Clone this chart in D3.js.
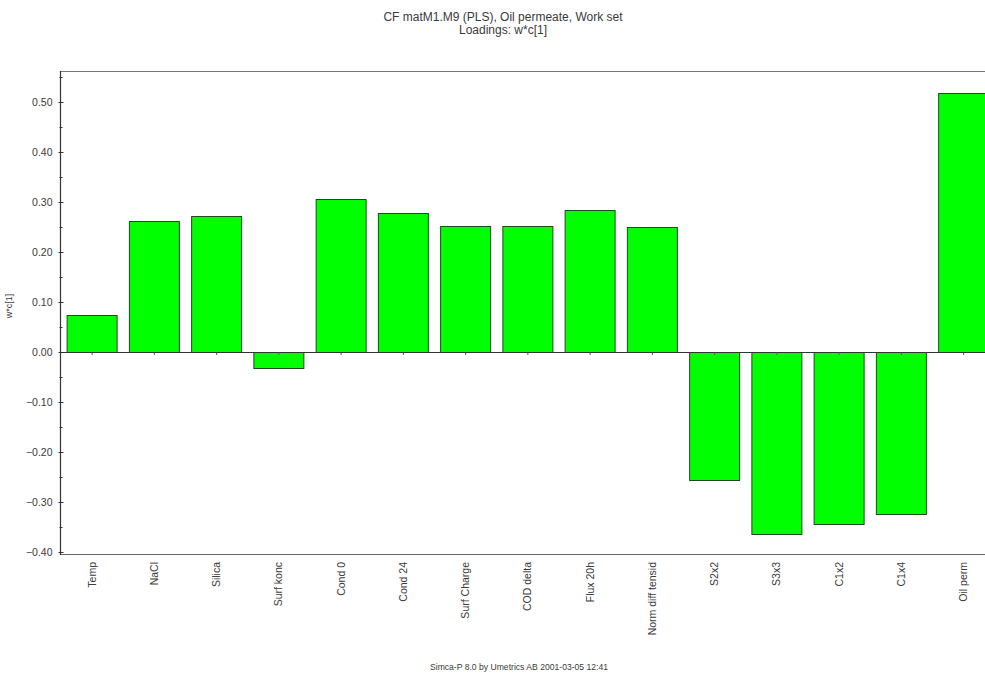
<!DOCTYPE html>
<html>
<head>
<meta charset="utf-8">
<script src="https://cdn.jsdelivr.net/npm/d3@7"></script>
<style>
  html, body { margin: 0; padding: 0; background: #ffffff; }
  svg { display: block; }
  text { font-family: "Liberation Sans", Arial, sans-serif; fill: #3a3a3a; }
</style>
</head>
<body>
<script>
// PLS loadings w*c[1] per variable
const variables = ["Temp", "NaCl", "Silica", "Surf konc", "Cond 0", "Cond 24", "Surf Charge",
  "COD delta", "Flux 20h", "Norm diff tensid", "S2x2", "S3x3", "C1x2", "C1x4", "Oil perm"];
const loadings = [0.075, 0.263, 0.271, -0.031, 0.307, 0.278, 0.253,
  0.253, 0.284, 0.250, -0.255, -0.363, -0.343, -0.323, 0.519];
const yTicks = [-0.40, -0.30, -0.20, -0.10, 0.00, 0.10, 0.20, 0.30, 0.40, 0.50];
const titleLines = ["CF matM1.M9 (PLS), Oil permeate, Work set", "Loadings: w*c[1]"];
const yLabel = "w*c[1]";
const footer = "Simca-P 8.0 by Umetrics AB 2001-03-05 12:41";

const W = 985, H = 675;
const plot = { left: 60.5, right: 985, top: 71, bottom: 554 };

const svg = d3.select("body").append("svg").attr("width", W).attr("height", H);

const y = d3.scaleLinear().domain([-0.4, 0.5]).range([552, 102]);
const step = 62.25;
const x = d3.scaleBand()
  .domain(variables)
  .range([plot.left, plot.left + step * variables.length])
  .paddingInner(0.197)
  .paddingOuter(0.0985);

// titles
svg.selectAll("text.title").data(titleLines).enter().append("text")
  .attr("class", "title")
  .attr("x", 503).attr("y", (d, i) => 20.5 + i * 13)
  .attr("text-anchor", "middle")
  .style("font-size", "12px")
  .text(d => d);

// frame lines
svg.append("line").attr("x1", plot.left).attr("x2", plot.right)
  .attr("y1", plot.top + 0.5).attr("y2", plot.top + 0.5)
  .attr("stroke", "#777").attr("stroke-width", 1.2);
svg.append("line").attr("x1", plot.left).attr("x2", plot.right)
  .attr("y1", plot.bottom + 0.5).attr("y2", plot.bottom + 0.5)
  .attr("stroke", "#666").attr("stroke-width", 1.2);

// bars
svg.selectAll("rect.bar").data(variables).enter().append("rect")
  .attr("class", "bar")
  .attr("x", d => x(d) + 0.5)
  .attr("width", x.bandwidth())
  .attr("y", (d, i) => Math.round(y(Math.max(0, loadings[i]))) + 0.5)
  .attr("height", (d, i) => Math.abs(Math.round(y(loadings[i])) - Math.round(y(0))))
  .attr("fill", "#00ff00")
  .attr("stroke", "#1f4a1f")
  .attr("stroke-width", 1);

// zero line
svg.append("line").attr("x1", plot.left).attr("x2", plot.right)
  .attr("y1", Math.round(y(0)) + 0.5).attr("y2", Math.round(y(0)) + 0.5)
  .attr("stroke", "#333").attr("stroke-width", 1);

// small category ticks on the zero line
svg.selectAll("line.xtick").data(variables).enter().append("line")
  .attr("class", "xtick")
  .attr("x1", d => x(d) + x.bandwidth() / 2 + 0.5)
  .attr("x2", d => x(d) + x.bandwidth() / 2 + 0.5)
  .attr("y1", Math.round(y(0)) + 0.5).attr("y2", Math.round(y(0)) + 3)
  .attr("stroke", "#555");

// y axis
const yAxis = d3.axisLeft(y)
  .tickValues(yTicks)
  .tickFormat(d3.format(".2f"))
  .tickSize(0)
  .tickPadding(8);
const gy = svg.append("g").attr("transform", `translate(${plot.left},0)`).call(yAxis);
gy.select(".domain").remove();
gy.selectAll("text").style("font-size", "10.5px").attr("fill", "#3a3a3a")
  .style("font-family", "\"Liberation Sans\", Arial, sans-serif");

svg.append("line").attr("x1", plot.left).attr("x2", plot.left)
  .attr("y1", plot.top).attr("y2", plot.bottom + 1)
  .attr("stroke", "#333").attr("stroke-width", 1.2);

// major and minor ticks straddling the y axis
const minor = d3.range(-0.35, 0.56, 0.1);
svg.selectAll("line.ymaj").data(yTicks).enter().append("line")
  .attr("x1", plot.left - 2).attr("x2", plot.left + 3)
  .attr("y1", d => Math.round(y(d)) + 0.5).attr("y2", d => Math.round(y(d)) + 0.5)
  .attr("stroke", "#333");
svg.selectAll("line.ymin").data(minor).enter().append("line")
  .attr("x1", plot.left - 1).attr("x2", plot.left + 2)
  .attr("y1", d => Math.round(y(d)) + 0.5).attr("y2", d => Math.round(y(d)) + 0.5)
  .attr("stroke", "#333");

// y label
svg.append("text")
  .attr("transform", "translate(12,306) rotate(-90)")
  .attr("text-anchor", "middle")
  .style("font-size", "9px")
  .text(yLabel);

// category labels, rotated
svg.selectAll("text.xlab").data(variables).enter().append("text")
  .attr("class", "xlab")
  .attr("transform", d => `translate(${x(d) + x.bandwidth() / 2 + 4},562) rotate(-90)`)
  .attr("text-anchor", "end")
  .style("font-size", "10.5px")
  .text(d => d);

// footer
svg.append("text")
  .attr("x", 519).attr("y", 670)
  .attr("text-anchor", "middle")
  .style("font-size", "8.6px")
  .text(footer);
</script>
</body>
</html>
